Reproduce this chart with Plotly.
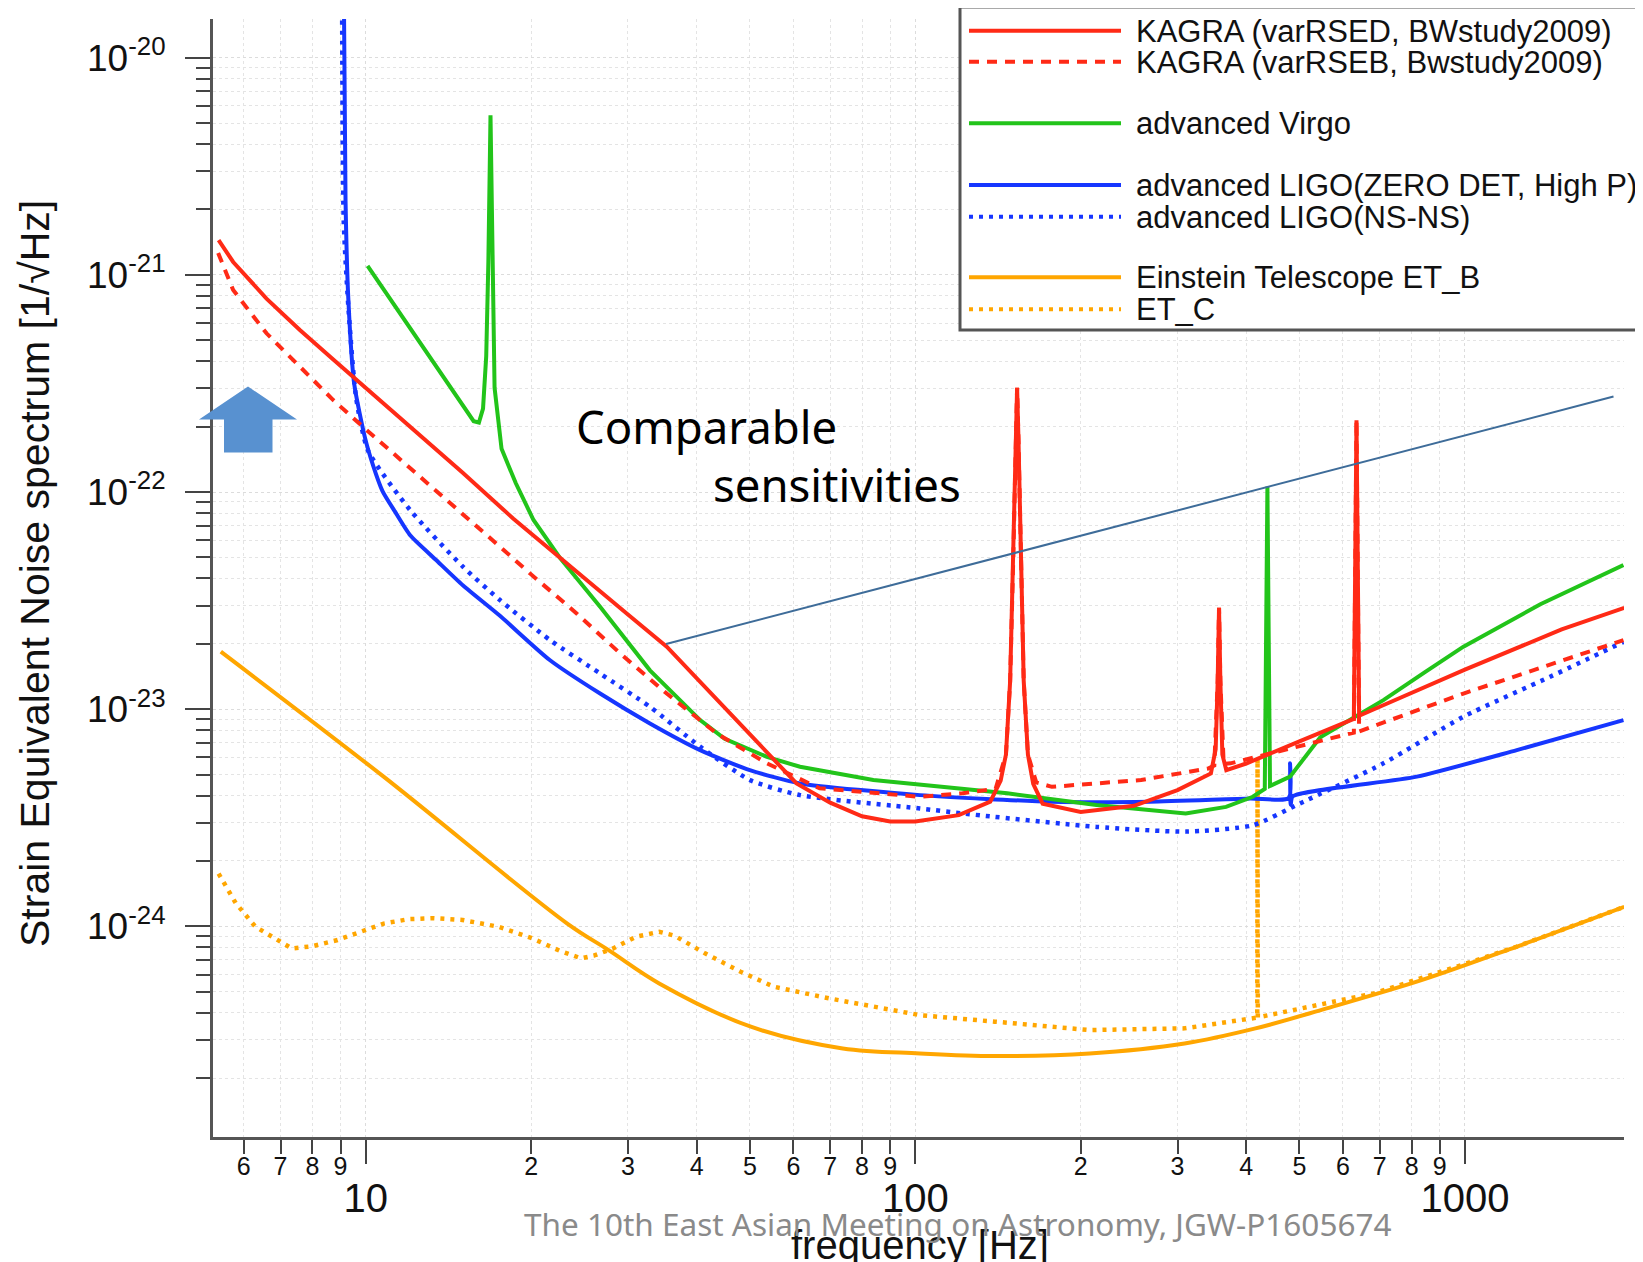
import plotly.graph_objects as go

# ---------------- data ----------------
kagra_d_freq = [5.4, 5.74, 6.6, 7.59, 8.73, 10, 12, 15, 18.57, 22.6, 30, 35.3, 40, 50, 60.8, 70, 80, 90, 100,
                120, 136.9, 143.0, 146.2, 148.8, 150.8, 152.1, 153.2, 154.1, 155.5, 157.5, 160.3, 163.9, 170.5,
                200, 250, 300, 345, 352, 355, 357, 359, 362, 368, 400, 500, 600, 628, 635, 642, 700, 800,
                1000, 1500, 1950]
kagra_d_strain = [1.446e-21, 1.146e-21, 7.77e-22, 5.57e-22, 4.08e-22, 3.02e-22, 2.02e-22, 1.23e-22, 7.53e-23,
                  4.95e-23, 2.73e-23, 1.94e-23, 1.39e-23, 7.66e-24, 4.55e-24, 3.71e-24, 3.21e-24, 3.04e-24,
                  3.04e-24, 3.25e-24, 3.75e-24, 4.69e-24, 6.18e-24, 1.35e-23, 5.11e-23, 1.73e-22, 3.02e-22,
                  1.73e-22, 5.11e-23, 1.35e-23, 6.18e-24, 4.53e-24, 3.67e-24, 3.36e-24, 3.59e-24, 4.24e-24,
                  5.06e-24, 6.54e-24, 1.35e-23, 2.93e-23, 1.35e-23, 6.18e-24, 5.24e-24, 5.62e-24, 7.11e-24,
                  8.63e-24, 9.02e-24, 2.14e-22, 9.33e-24, 1.026e-23, 1.19e-23, 1.52e-23, 2.33e-23, 2.93e-23]

kagra_b_freq = [5.39, 5.74, 6.60, 7.59, 8.73, 9.9, 13.18, 17.55, 19.9, 24.2, 29.02, 35.3, 43.5, 53.7, 67.0,
                102, 121.9, 140, 146.2, 148.8, 150.8, 152.1, 153.2, 154.1, 155.5, 157.5, 160.3, 166, 177.2,
                257.6, 341, 350, 355, 357, 359, 364, 374.6, 495.6, 618, 628, 635, 642, 994, 1943]
kagra_b_strain = [1.26e-21, 8.51e-22, 5.38e-22, 3.77e-22, 2.65e-22, 1.99e-22, 1.06e-22, 5.60e-23, 4.22e-23,
                  2.76e-23, 1.81e-23, 1.18e-23, 7.73e-24, 5.63e-24, 4.32e-24, 3.95e-24, 4.10e-24, 4.3e-24,
                  6.18e-24, 1.35e-23, 5.11e-23, 1.73e-22, 3.02e-22, 1.73e-22, 5.11e-23, 1.35e-23, 6.18e-24,
                  4.6e-24, 4.39e-24, 4.72e-24, 5.33e-24, 5.5e-24, 1.35e-23, 2.93e-23, 1.35e-23, 5.6e-24,
                  5.63e-24, 6.72e-24, 7.72e-24, 7.8e-24, 2.14e-22, 7.9e-24, 1.18e-23, 2.08e-23]

virgo_freq = [10.08, 12.51, 14.91, 15.72, 16.07, 16.35, 16.57, 16.72, 16.87, 17.01, 17.16, 17.67, 18.75,
              20.2, 22.6, 26.7, 32.9, 40.6, 45, 53.7, 61.7, 83.9, 147, 213.6, 310.5, 367.6, 411.3, 432.4,
              437.2, 442.0, 480.7, 545.6, 710.8, 846, 994, 1372, 1943]
virgo_strain = [1.10e-21, 4.93e-22, 2.56e-22, 2.12e-22, 2.09e-22, 2.42e-22, 4.22e-22, 1.15e-21, 5.43e-21,
                1.15e-21, 3.02e-22, 1.58e-22, 1.10e-22, 7.43e-23, 4.95e-23, 2.96e-23, 1.51e-23, 8.91e-24,
                7.31e-24, 6.03e-24, 5.43e-24, 4.72e-24, 4.10e-24, 3.62e-24, 3.31e-24, 3.55e-24, 3.95e-24,
                4.29e-24, 1.06e-22, 4.43e-24, 4.89e-24, 7.43e-24, 1.10e-23, 1.48e-23, 1.94e-23, 3.04e-23,
                4.61e-23]

aligo_hp_freq = [9.08, 9.19, 9.30, 9.53, 9.97, 10.31, 10.73, 11.3, 12.06, 13.4, 15.04, 17.55, 21.65, 26.7,
                 32.9, 40.6, 50.0, 61.7, 102, 177.2, 267.4, 406.7, 478, 480.7, 482, 486, 817.7, 1243, 1943]
aligo_hp_strain = [1e-19, 2.21e-21, 7.68e-22, 3.15e-22, 1.78e-22, 1.33e-22, 1.01e-22, 8.14e-23, 6.3e-23,
                   4.89e-23, 3.71e-23, 2.69e-23, 1.68e-23, 1.18e-23, 8.60e-24, 6.48e-24, 5.24e-24, 4.55e-24,
                   4.02e-24, 3.75e-24, 3.75e-24, 3.88e-24, 3.90e-24, 5.63e-24, 3.63e-24, 3.97e-24, 4.89e-24,
                   6.48e-24, 8.91e-24]

aligo_ns_freq = [9.05, 9.12, 9.32, 9.61, 10.1, 12.06, 15.04, 17.55, 21.65, 26.7, 32.9, 40.6, 50.0, 61.7,
                 102, 121.9, 213.6, 310.5, 411.3, 501.2, 710.8, 994, 1429, 1943]
aligo_ns_strain = [1e-19, 1.79e-21, 6.57e-22, 2.70e-22, 1.55e-22, 8.23e-23, 4.52e-23, 3.18e-23, 2.08e-23,
                   1.46e-23, 1.025e-23, 6.72e-24, 4.72e-24, 4.02e-24, 3.49e-24, 3.31e-24, 2.87e-24, 2.73e-24,
                   2.92e-24, 3.68e-24, 5.63e-24, 9.23e-24, 1.41e-23, 2.04e-23]

etb_freq = [5.45, 10.78, 23.27, 27.67, 34.2, 50.2, 73.8, 102, 139.6, 207.6, 309, 415.9, 560.2, 833.6, 1240, 1950]
etb_strain = [1.84e-23, 4.89e-24, 1.03e-24, 7.77e-25, 5.46e-25, 3.45e-25, 2.74e-25, 2.60e-25, 2.53e-25,
              2.60e-25, 2.89e-25, 3.39e-25, 4.19e-25, 5.65e-25, 8.05e-25, 1.23e-24]

etc_freq = [5.40, 5.8, 6.30, 7.34, 8.0, 8.89, 10.78, 12.0, 13.32, 15.0, 17.44, 20.0, 22.5, 24.66, 26.0, 28.2,
            31.0, 34.2, 36.5, 41.44, 48.0, 55.3, 70.0, 102, 139.6, 207.6, 309, 411.9, 419.0, 419.5, 420.0,
            424.4, 683.2, 1016, 1240, 1950]
etc_strain = [1.75e-24, 1.28e-24, 9.96e-25, 7.91e-25, 8.10e-25, 8.65e-25, 1.03e-24, 1.08e-24, 1.09e-24,
              1.07e-24, 9.96e-25, 8.85e-25, 7.74e-25, 7.12e-25, 7.33e-25, 7.91e-25, 8.95e-25, 9.44e-25,
              9.05e-25, 7.51e-25, 6.20e-25, 5.27e-25, 4.65e-25, 3.90e-25, 3.64e-25, 3.33e-25, 3.39e-25,
              3.77e-25, 3.80e-25, 5.94e-24, 3.80e-25, 3.83e-25, 4.91e-25, 6.8e-25, 8.05e-25, 1.23e-24]

comparable_freq = [35.2, 1864]
comparable_strain = [1.995e-23, 2.75e-22]

legend_labels = ["KAGRA (varRSED, BWstudy2009)", "KAGRA (varRSEB, Bwstudy2009)", "advanced Virgo",
                 "advanced LIGO(ZERO DET, High P)", "advanced LIGO(NS-NS)",
                 "Einstein Telescope ET_B", "ET_C"]

major_x = [10, 100, 1000]
major_x_text = ["10", "100", "1000"]
minor_x = [6, 7, 8, 9, 20, 30, 40, 50, 60, 70, 80, 90, 200, 300, 400, 500, 600, 700, 800, 900]
minor_x_text = ["6", "7", "8", "9", "2", "3", "4", "5", "6", "7", "8", "9", "2", "3", "4", "5", "6", "7", "8", "9"]
major_y = [1e-20, 1e-21, 1e-22, 1e-23, 1e-24]
major_y_text = ["10<sup>-20</sup>", "10<sup>-21</sup>", "10<sup>-22</sup>", "10<sup>-23</sup>", "10<sup>-24</sup>"]
minor_y = [k * 10.0 ** e for e in range(-25, -20) for k in range(2, 10)]

# ---------------- styles ----------------
RED, GREEN, BLUE, ORANGE = "#ff2a16", "#22c41a", "#1636ff", "#ffa600"
DASH, DOT = "10px,8px", "4px,6px"
styles = [(RED, "solid"), (RED, DASH), (GREEN, "solid"), (BLUE, "solid"), (BLUE, DOT), (ORANGE, "solid"), (ORANGE, DOT)]
LW = 4

# page geometry (the page body has an 8px offset)
OFF = 8
FIG_W, FIG_H = 1643 - OFF, 1262 - OFF
L, R, T, B = 213, 1624, 19, 1137          # plot area in window pixels
W, H = R - L, B - T
def px(X):
    return (X - L) / W
def py(Y):
    return 1 - (Y - T) / H

fig = go.Figure()

series = [
    (etc_freq, etc_strain, 6, "linear", None),
    (etb_freq, etb_strain, 5, "spline", 1.0),
    (aligo_ns_freq, aligo_ns_strain, 4, "spline", 0.6),
    (aligo_hp_freq, aligo_hp_strain, 3, "spline", 0.6),
    (virgo_freq, virgo_strain, 2, "linear", None),
    (kagra_b_freq, kagra_b_strain, 1, "linear", None),
    (kagra_d_freq, kagra_d_strain, 0, "linear", None),
]
for fx, sy, idx, shape, sm in series:
    col, dash = styles[idx]
    line = dict(color=col, width=LW if dash != DOT else 4.5, dash=dash, shape=shape)
    if sm is not None:
        line["smoothing"] = sm
    fig.add_trace(go.Scatter(x=fx, y=sy, mode="lines", name=legend_labels[idx], showlegend=False,
                             hoverinfo="skip", line=line))

# "comparable sensitivities" guide line (on the overlaying x2 axis, same scale)
fig.add_trace(go.Scatter(x=comparable_freq, y=comparable_strain, mode="lines", xaxis="x2",
                         showlegend=False, hoverinfo="skip", line=dict(color="#3e6c99", width=2)))

XR = [0.7222, 3.2895]
YR = [-24.970, -19.822]
SANS = "Liberation Sans, Arial, sans-serif"
grid = dict(showgrid=True, gridcolor="#dcdcdc", griddash="dot", gridwidth=1)

fig.update_layout(
    width=FIG_W, height=FIG_H,
    margin=dict(l=L - OFF, r=FIG_W - (R - OFF), t=T - OFF, b=FIG_H - (B - OFF)),
    paper_bgcolor="white", plot_bgcolor="white",
    showlegend=False,
    xaxis=dict(type="log", range=XR, showline=True, linecolor="#555555", linewidth=3,
               ticks="outside", ticklen=24, tickwidth=2, tickcolor="#444444",
               tickmode="array", tickvals=major_x, ticktext=major_x_text,
               tickfont=dict(family=SANS, size=40, color="#111111"), ticklabelstandoff=0,
               zeroline=False, **grid,
               minor=dict(tickmode="array", tickvals=minor_x, ticks="outside", ticklen=14,
                          tickwidth=2, tickcolor="#444444", showgrid=True, gridcolor="#e4e4e4",
                          griddash="dot")),
    xaxis2=dict(type="log", range=XR, overlaying="x", anchor="y", side="bottom",
                tickmode="array", tickvals=minor_x, ticktext=minor_x_text, ticks="",
                tickfont=dict(family=SANS, size=25, color="#111111"),
                ticklabelstandoff=12, showgrid=False, showline=False, zeroline=False),
    yaxis=dict(type="log", range=YR, showline=True, linecolor="#555555", linewidth=3,
               ticks="outside", ticklen=25, tickwidth=2, tickcolor="#444444",
               tickmode="array", tickvals=major_y, ticktext=major_y_text,
               tickfont=dict(family=SANS, size=37, color="#111111"),
               ticklabelstandoff=12, zeroline=False, **grid,
               minor=dict(tickmode="array", tickvals=minor_y, ticks="outside", ticklen=14,
                          tickwidth=2, tickcolor="#444444", showgrid=True, gridcolor="#e4e4e4",
                          griddash="dot")),
)

shapes = []
annotations = []

# block arrow
ax = [199, 248, 297, 272.5, 224]
ay = [386.5, 419.5, 452.5]
path = (f"M {px(ax[1])},{py(ay[0])} L {px(ax[2])},{py(ay[1])} L {px(ax[3])},{py(ay[1])} "
        f"L {px(ax[3])},{py(ay[2])} L {px(ax[4])},{py(ay[2])} L {px(ax[4])},{py(ay[1])} "
        f"L {px(ax[0])},{py(ay[1])} Z")
shapes.append(dict(type="path", xref="paper", yref="paper", path=path,
                   fillcolor="#5891d0", line=dict(width=0), layer="above"))

# legend box
shapes.append(dict(type="rect", xref="paper", yref="paper", x0=px(960), x1=px(1640), y0=py(330), y1=py(7),
                   fillcolor="white", line=dict(color="#555555", width=3), layer="above"))
rows = [30.7, 61.7, 123.3, 185, 216.7, 277.3, 309.3]
for i, yrow in enumerate(rows):
    col, dash = styles[i]
    shapes.append(dict(type="line", xref="paper", yref="paper", x0=px(969), x1=px(1121),
                       y0=py(yrow), y1=py(yrow), line=dict(color=col, width=LW, dash=dash), layer="above"))
    annotations.append(dict(text=legend_labels[i], xref="paper", yref="paper", x=px(1134), y=py(yrow + 0.5),
                            xanchor="left", yanchor="middle", showarrow=False,
                            font=dict(family=SANS, size=31, color="#111111")))

# texts
annotations += [
    dict(text="Comparable", xref="paper", yref="paper", x=px(574), y=py(426), xanchor="left",
         yanchor="middle", showarrow=False, font=dict(family="Noto Sans, Open Sans, sans-serif", size=45.5, color="black")),
    dict(text="sensitivities", xref="paper", yref="paper", x=px(711), y=py(484), xanchor="left",
         yanchor="middle", showarrow=False, font=dict(family="Noto Sans, Open Sans, sans-serif", size=45.5, color="black")),
    dict(text="Strain Equivalent Noise spectrum [1/\u221aHz]", xref="paper", yref="paper", x=px(35), y=py(574),
         xanchor="center", yanchor="middle", textangle=-90, showarrow=False,
         font=dict(family=SANS, size=41, color="#111111")),
    dict(text="frequency [Hz]", xref="paper", yref="paper", x=px(920), y=py(1245), xanchor="center",
         yanchor="middle", showarrow=False, font=dict(family=SANS, size=40, color="#111111")),
    dict(text="The 10th East Asian Meeting on Astronomy, JGW-P1605674", xref="paper", yref="paper",
         x=px(957), y=py(1223), xanchor="center", yanchor="middle", showarrow=False,
         font=dict(family="Noto Sans, Open Sans, sans-serif", size=31.5, color="#8a8a8a")),
]

fig.update_layout(shapes=shapes, annotations=annotations)
fig.write_html("out.html")
